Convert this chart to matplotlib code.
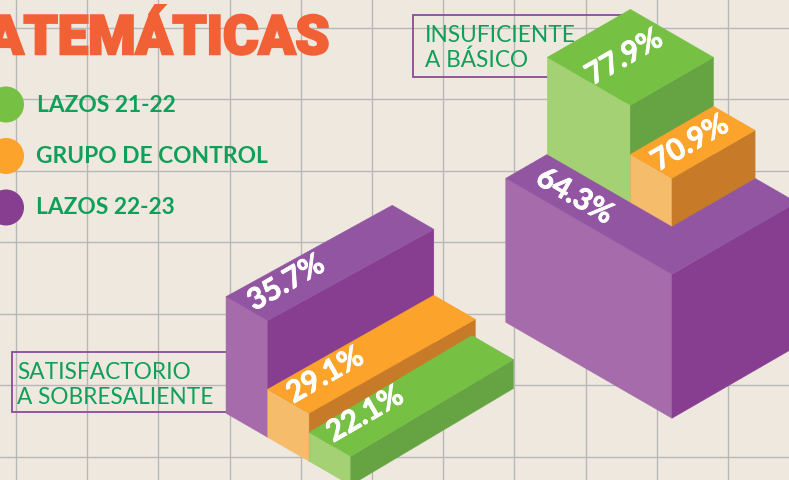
import numpy as np
import matplotlib
matplotlib.use('Agg')
import matplotlib.pyplot as plt
import matplotlib.patheffects as pe
from matplotlib.patches import Polygon, Rectangle, Circle

title = 'MATEMÁTICAS'
groups = ['LAZOS 21-22', 'GRUPO DE CONTROL', 'LAZOS 22-23']
insuficiente = [77.9, 70.9, 64.3]
satisfactorio = [22.1, 29.1, 35.7]
label_insuficiente = 'INSUFICIENTE\nA BÁSICO'
label_satisfactorio = 'SATISFACTORIO\nA SOBRESALIENTE'

# the original heights are not proportional, so value -> drawn height is a stepped scale
scale_values = [22.1, 29.1, 35.7, 64.3, 70.9, 77.9]
scale_heights = [29, 48, 116.7, 144, 192, 241]

BG = '#EEE8DF'
GRID = '#B7B7B7'
TEXT_GREEN = '#0E9F58'
FRAME = '#8C4A9B'
TITLE = '#F26135'
# top, left, right
GREEN = ('#76C044', '#A3D173', '#66A443')
ORANGE = ('#FBA32B', '#F5BC6B', '#C77B28')
PURPLE = ('#9155A1', '#A66BAB', '#873E90')
colors = [GREEN, ORANGE, PURPLE]

FONT = 'Lato'


def height(v):
    return float(np.interp(v, scale_values, scale_heights))


def project(origin, a, b, z, slope=0.5):
    x = origin[0] + 0.866 * (a + b)
    y = origin[1] + 0.5 * a - slope * b - z
    return x, y


def draw_box(ax, origin, a0, a1, b0, b1, z0, z1, cols, slope=0.5):
    p = lambda a, b, z: project(origin, a, b, z, slope)
    top = [p(a0, b0, z1), p(a1, b0, z1), p(a1, b1, z1), p(a0, b1, z1)]
    left = [p(a0, b0, z1), p(a1, b0, z1), p(a1, b0, z0), p(a0, b0, z0)]
    right = [p(a1, b0, z1), p(a1, b1, z1), p(a1, b1, z0), p(a1, b0, z0)]
    for pts, c in zip([left, right, top], [cols[1], cols[2], cols[0]]):
        ax.add_patch(Polygon(pts, closed=True, fc=c, ec=c, lw=0.3, zorder=3))


def pct_label(ax, origin, a, b, v, rot):
    x, y = project(origin, a, b, height(v))
    t = ax.text(x, y, f'{v}%', color='white', fontsize=21.5, fontweight='bold', family=FONT,
                rotation=rot, rotation_mode='anchor', ha='center', va='center', zorder=5)
    t.set_path_effects([pe.withStroke(linewidth=0.6, foreground='white')])


fig = plt.figure(figsize=(7.89, 4.8), dpi=100, facecolor=BG)
ax = fig.add_axes([0, 0, 1, 1])
ax.set_xlim(0, 789)
ax.set_ylim(480, 0)
ax.axis('off')

for gx in np.arange(16, 789, 71.2):
    ax.axvline(gx, color=GRID, lw=1.0, zorder=1)
for gy in np.arange(27.5, 480, 71.5):
    ax.axhline(gy, color=GRID, lw=1.0, zorder=1)

# title, runs off the left edge
tt = ax.text(329, 54, title, color=TITLE, fontsize=39, fontweight='black', family='Roboto',
             ha='right', va='baseline', zorder=4)
tt.set_path_effects([pe.Stroke(linewidth=1.8, foreground=TITLE, joinstyle='miter'), pe.Normal()])

# legend
for name, c, cy, tx in zip(groups, colors, [104.5, 156, 207.5], [37, 36, 36]):
    ax.add_patch(Circle((6, cy), 18, fc=c[0] if c is not PURPLE else c[2], ec='none', zorder=4))
    ax.text(tx, cy + 0.5, name, color=TEXT_GREEN, fontsize=16.4, fontweight='bold', family=FONT,
            ha='left', va='center', zorder=4)

# category frames sit behind the boxes
ax.add_patch(Rectangle((413, 15), 217, 61.5, fc='none', ec=FRAME, lw=1.3, zorder=2))
ax.add_patch(Rectangle((12, 352), 218, 60, fc='none', ec=FRAME, lw=1.3, zorder=2))
ax.text(425, 48, label_insuficiente, color=TEXT_GREEN, fontsize=16.3, family=FONT,
        ha='left', va='center', linespacing=1.25, zorder=2.5)
ax.text(17.5, 385, label_satisfactorio, color=TEXT_GREEN, fontsize=16.3, family=FONT,
        ha='left', va='center', linespacing=1.25, zorder=2.5)

# right stack
right_origin = (505.7, 322.3)
top_p = height(insuficiente[2])
draw_box(ax, right_origin, 0, 192, 0, 144, 0, top_p, PURPLE)
draw_box(ax, right_origin, 0, 96, 48, 144, top_p, height(insuficiente[0]), GREEN)
draw_box(ax, right_origin, 96, 144, 48, 144, top_p, height(insuficiente[1]), ORANGE)
pct_label(ax, right_origin, 44, 92.6, insuficiente[0], 30)
pct_label(ax, right_origin, 119, 93.7, insuficiente[1], 30)
pct_label(ax, right_origin, 57.7, 22.3, insuficiente[2], -30)

# left stack
left_origin = (226, 413.3)
draw_box(ax, left_origin, 0, 48, 0, 192, 0, height(satisfactorio[2]), PURPLE, slope=0.476)
draw_box(ax, left_origin, 48, 96, 0, 192, 0, height(satisfactorio[1]), ORANGE, slope=0.49)
draw_box(ax, left_origin, 96, 144, 0, 188, 0, height(satisfactorio[0]), GREEN, slope=0.515)
pct_label(ax, left_origin, 20.7, 48.5, satisfactorio[2], 30)
pct_label(ax, left_origin, 66.9, 47.5, satisfactorio[1], 30)
pct_label(ax, left_origin, 110, 50.5, satisfactorio[0], 30)

fig.savefig('out.png', dpi=100, facecolor=BG)
